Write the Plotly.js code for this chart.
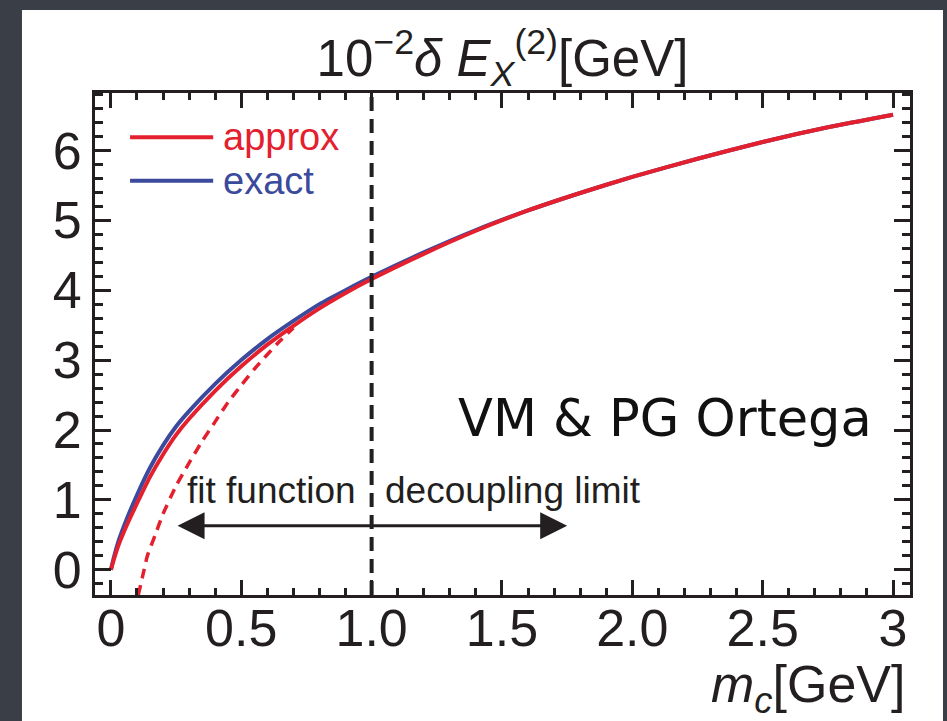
<!DOCTYPE html>
<html>
<head>
<meta charset="utf-8">
<script src="https://cdn.plot.ly/plotly-3.0.1.min.js"></script>
<style>
  html, body { margin: 0; padding: 0; background: #3a3e46; }
  #chart { width: 947px; height: 721px; }
</style>
</head>
<body>
<div id="chart"></div>
<script>
// ---- data ----
const exactX  = [0, 0.01, 0.03, 0.06, 0.1, 0.15, 0.2, 0.25, 0.3, 0.4, 0.5, 0.6, 0.7, 0.8, 0.9, 1.0, 1.2, 1.4, 1.6, 1.8, 2.0, 2.25, 2.5, 2.75, 3.0];
const exactY  = [0, 0.16, 0.42, 0.72, 1.07, 1.46, 1.78, 2.05, 2.27, 2.66, 3.0, 3.3, 3.56, 3.8, 4.0, 4.19, 4.54, 4.86, 5.14, 5.39, 5.62, 5.88, 6.12, 6.33, 6.51];
const approxX = [0, 0.01, 0.03, 0.06, 0.1, 0.15, 0.2, 0.25, 0.3, 0.4, 0.5, 0.6, 0.7, 0.8, 0.9, 1.0, 1.2, 1.4, 1.6, 1.8, 2.0, 2.25, 2.5, 2.75, 3.0];
const approxY = [0, 0.13, 0.36, 0.63, 0.95, 1.33, 1.65, 1.93, 2.16, 2.56, 2.91, 3.22, 3.49, 3.74, 3.96, 4.16, 4.52, 4.85, 5.14, 5.39, 5.62, 5.88, 6.12, 6.33, 6.51];
const fitX    = [0.105, 0.12, 0.14, 0.17, 0.2, 0.25, 0.3, 0.35, 0.4, 0.45, 0.5, 0.55, 0.6, 0.65, 0.7];
const fitY    = [-0.36, -0.12, 0.2, 0.5, 0.8, 1.2, 1.53, 1.84, 2.12, 2.4, 2.64, 2.87, 3.08, 3.28, 3.46];
const xTickVals = [0, 0.5, 1.0, 1.5, 2.0, 2.5, 3];
const xTickText = ["0", "0.5", "1.0", "1.5", "2.0", "2.5", "3"];
const yTickVals = [0, 1, 2, 3, 4, 5, 6];
const boundaryX = 1.0;
const arrowLeftX = 0.25, arrowRightX = 1.75, arrowY = 0.63;
const seriesNames = ["approx", "exact"];

const INK = '#231f20';
const RED = '#e4202e';
const BLUE = '#3b4a9c';
const FONT = 'Liberation Sans, Arial, sans-serif';

const traces = [
  { x: exactX, y: exactY, name: seriesNames[1], mode: 'lines',
    line: { color: BLUE, width: 4, shape: 'spline', smoothing: 0.6 }, showlegend: false },
  { x: fitX, y: fitY, name: 'approx (extrapolated)', mode: 'lines',
    line: { color: RED, width: 3.5, dash: '10px,7px', shape: 'spline', smoothing: 0.6 }, showlegend: false },
  { x: approxX, y: approxY, name: seriesNames[0], mode: 'lines',
    line: { color: RED, width: 4, shape: 'spline', smoothing: 0.6 }, showlegend: false }
];

const axisCommon = {
  showline: true, mirror: 'ticks', linecolor: INK, linewidth: 3,
  ticks: 'inside', tickcolor: INK, tickwidth: 3,
  showgrid: false, zeroline: false, fixedrange: true,
  tickfont: { family: FONT, size: 52, color: INK }
};

const layout = {
  width: 947, height: 721,
  margin: { l: 95, r: 37, t: 93, b: 126 },
  paper_bgcolor: '#3a3e46',
  plot_bgcolor: 'white',
  showlegend: false,
  font: { family: FONT, color: INK },
  title: {
    text: '10<sup>−2</sup><i>δ E<sub>X</sub></i><sup>(2)</sup>[GeV]',
    font: { family: FONT, size: 51, color: INK },
    x: 0.5, xref: 'paper', xanchor: 'center',
    y: 0.92, yref: 'container', yanchor: 'middle'
  },
  xaxis: Object.assign({}, axisCommon, {
    range: [-0.061, 3.065],
    tickvals: xTickVals, ticktext: xTickText, ticklen: 15,
    ticklabelstandoff: -14,
    minor: { dtick: 0.1, tick0: 0, ticks: 'inside', ticklen: 7, tickwidth: 3, tickcolor: INK, showgrid: false }
  }),
  yaxis: Object.assign({}, axisCommon, {
    range: [-0.36, 6.82],
    tickvals: yTickVals, ticklen: 16,
    ticklabelstandoff: 0,
    minor: { dtick: 0.2, tick0: 0, ticks: 'inside', ticklen: 8, tickwidth: 3, tickcolor: INK, showgrid: false }
  }),
  shapes: [
    // white slide panel
    { type: 'rect', xref: 'paper', yref: 'paper', x0: -0.0896, x1: 1.0405, y0: -0.26, y1: 1.1653,
      fillcolor: 'white', line: { width: 0 }, layer: 'below' },
    // boundary line
    { type: 'line', xref: 'x', yref: 'paper', x0: boundaryX, x1: boundaryX, y0: 0, y1: 1,
      line: { color: INK, width: 4, dash: '14px,8px' }, layer: 'above' },
    // legend samples
    { type: 'line', xref: 'paper', yref: 'paper', x0: 0.043, x1: 0.145, y0: 0.912, y1: 0.912,
      line: { color: RED, width: 4 } },
    { type: 'line', xref: 'paper', yref: 'paper', x0: 0.043, x1: 0.145, y0: 0.825, y1: 0.825,
      line: { color: BLUE, width: 4 } }
  ],
  annotations: [
    { xref: 'paper', yref: 'paper', x: 0.155, y: 0.912, xanchor: 'left', yanchor: 'middle',
      text: seriesNames[0], showarrow: false, font: { family: FONT, size: 38, color: RED } },
    { xref: 'paper', yref: 'paper', x: 0.155, y: 0.825, xanchor: 'left', yanchor: 'middle',
      text: seriesNames[1], showarrow: false, font: { family: FONT, size: 38, color: BLUE } },
    { xref: 'x', yref: 'y', x: 0.617, y: 1.14, text: 'fit function', showarrow: false,
      font: { family: FONT, size: 37, color: INK } },
    { xref: 'x', yref: 'y', x: 1.542, y: 1.14, text: 'decoupling limit', showarrow: false,
      font: { family: FONT, size: 37, color: INK } },
    { xref: 'x', yref: 'y', axref: 'x', ayref: 'y', x: arrowRightX, y: arrowY, ax: arrowLeftX, ay: arrowY,
      text: '', showarrow: true, arrowside: 'end+start', arrowhead: 2, startarrowhead: 2,
      arrowsize: 1.8, startarrowsize: 1.8, arrowwidth: 3, arrowcolor: INK, standoff: 0, startstandoff: 0 },
    { xref: 'x', yref: 'y', x: 2.125, y: 2.17, text: 'VM & PG Ortega', showarrow: false,
      font: { family: 'DejaVu Sans, sans-serif', size: 51, color: '#111' } },
    { xref: 'paper', yref: 'paper', x: 0.996, y: -0.185, xanchor: 'right', yanchor: 'middle',
      text: '<i>m<sub>c</sub></i>[GeV]', showarrow: false,
      font: { family: FONT, size: 52, color: INK } }
  ]
};

Plotly.newPlot('chart', traces, layout, { displayModeBar: false, staticPlot: true });
</script>
</body>
</html>
